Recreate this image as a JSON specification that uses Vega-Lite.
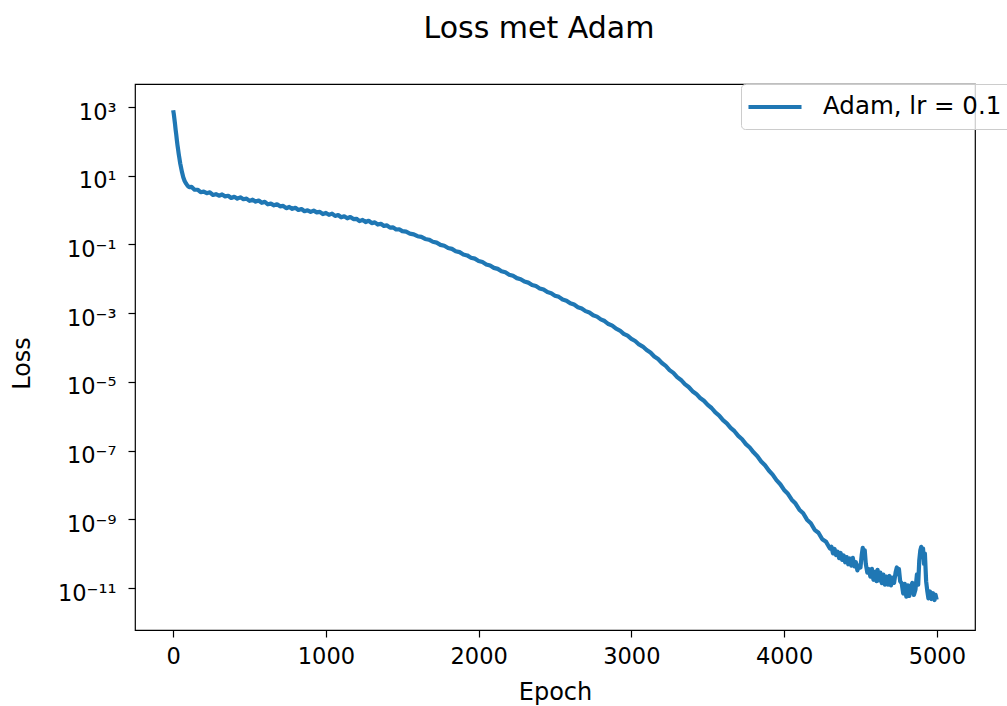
{
  "$schema": "https://vega.github.io/schema/vega-lite/v6.json",
  "width": 840,
  "height": 546,
  "autosize": {"type": "none"},
  "padding": {"left": 135, "top": 84, "right": 32, "bottom": 76},
  "background": "white",
  "title": {"text": "Loss met Adam", "fontSize": 30, "font": "DejaVu Sans", "fontWeight": "normal", "color": "#000", "anchor": "middle", "frame": "group", "dx": -16, "offset": 16, "baseline": "alphabetic"},
  "config": {
    "view": {"stroke": "#000", "strokeWidth": 1.2},
    "axis": {"labelFont": "DejaVu Sans", "titleFont": "DejaVu Sans", "labelColor": "#000", "titleColor": "#000", "titleFontWeight": "normal", "grid": false, "domain": false, "tickColor": "#000", "tickWidth": 1.2, "tickSize": 7}
  },
  "data": {"values": [
    {"epoch":0,"loss":810},{"epoch":4,"loss":630},{"epoch":8,"loss":450},{"epoch":12,"loss":320},{"epoch":16,"loss":220},{"epoch":20,"loss":160},{"epoch":24,"loss":110},{"epoch":28,"loss":79},{"epoch":32,"loss":59},{"epoch":36,"loss":44},{"epoch":40,"loss":34},{"epoch":46,"loss":23},{"epoch":52,"loss":17},{"epoch":58,"loss":12.6},{"epoch":66,"loss":9.1},{"epoch":75,"loss":7.1},{"epoch":85,"loss":5.9},{"epoch":95,"loss":5.1},{"epoch":105,"loss":4.7},
    {"epoch":120,"loss":4.76},{"epoch":140,"loss":3.94},{"epoch":160,"loss":3.93},{"epoch":180,"loss":3.33},{"epoch":200,"loss":3.47},{"epoch":220,"loss":3.12},{"epoch":240,"loss":3.30},{"epoch":260,"loss":2.77},{"epoch":280,"loss":2.92},{"epoch":300,"loss":2.63},
    {"epoch":320,"loss":2.86},{"epoch":340,"loss":2.52},{"epoch":360,"loss":2.62},{"epoch":380,"loss":2.26},{"epoch":400,"loss":2.45},{"epoch":420,"loss":2.17},{"epoch":440,"loss":2.36},{"epoch":460,"loss":2.08},{"epoch":480,"loss":2.16},{"epoch":500,"loss":1.86},
    {"epoch":520,"loss":2.01},{"epoch":540,"loss":1.77},{"epoch":560,"loss":1.91},{"epoch":580,"loss":1.64},{"epoch":600,"loss":1.74},{"epoch":620,"loss":1.48},{"epoch":640,"loss":1.55},{"epoch":660,"loss":1.38},{"epoch":680,"loss":1.48},{"epoch":700,"loss":1.29},
    {"epoch":720,"loss":1.33},{"epoch":740,"loss":1.14},{"epoch":760,"loss":1.24},{"epoch":780,"loss":1.09},{"epoch":800,"loss":1.17},{"epoch":820,"loss":1.01},{"epoch":840,"loss":1.08},{"epoch":860,"loss":0.93},{"epoch":880,"loss":0.99},{"epoch":900,"loss":0.89},
    {"epoch":920,"loss":0.97},{"epoch":940,"loss":0.86},{"epoch":960,"loss":0.89},{"epoch":980,"loss":0.77},{"epoch":1000,"loss":0.83},{"epoch":1020,"loss":0.73},{"epoch":1040,"loss":0.79},{"epoch":1060,"loss":0.68},{"epoch":1080,"loss":0.72},{"epoch":1100,"loss":0.62},
    {"epoch":1120,"loss":0.66},{"epoch":1140,"loss":0.58},{"epoch":1160,"loss":0.63},{"epoch":1180,"loss":0.55},{"epoch":1200,"loss":0.56},{"epoch":1220,"loss":0.48},{"epoch":1240,"loss":0.52},{"epoch":1260,"loss":0.45},{"epoch":1280,"loss":0.49},{"epoch":1300,"loss":0.42},
    {"epoch":1320,"loss":0.44},{"epoch":1340,"loss":0.38},{"epoch":1360,"loss":0.40},{"epoch":1380,"loss":0.347},{"epoch":1400,"loss":0.359},{"epoch":1420,"loss":0.310},{"epoch":1440,"loss":0.316},{"epoch":1460,"loss":0.273},{"epoch":1480,"loss":0.277},{"epoch":1500,"loss":0.245},
    {"epoch":1525,"loss":0.236},{"epoch":1550,"loss":0.207},{"epoch":1575,"loss":0.198},{"epoch":1600,"loss":0.174},{"epoch":1625,"loss":0.166},{"epoch":1650,"loss":0.145},{"epoch":1675,"loss":0.138},{"epoch":1700,"loss":0.120},
    {"epoch":1725,"loss":0.1135},{"epoch":1750,"loss":0.0977},{"epoch":1775,"loss":0.0923},{"epoch":1800,"loss":0.0794},{"epoch":1825,"loss":0.0746},{"epoch":1850,"loss":0.0638},{"epoch":1875,"loss":0.0599},{"epoch":1900,"loss":0.0513},
    {"epoch":1925,"loss":0.0481},{"epoch":1950,"loss":0.0412},{"epoch":1975,"loss":0.0387},{"epoch":2000,"loss":0.0331},{"epoch":2025,"loss":0.0309},{"epoch":2050,"loss":0.0263},{"epoch":2075,"loss":0.0245},{"epoch":2100,"loss":0.0209},
    {"epoch":2125,"loss":0.0195},{"epoch":2150,"loss":0.0166},{"epoch":2175,"loss":0.0155},{"epoch":2200,"loss":0.0132},{"epoch":2225,"loss":0.0123},{"epoch":2250,"loss":0.0105},{"epoch":2275,"loss":0.00977},{"epoch":2300,"loss":0.00832},
    {"epoch":2325,"loss":0.00776},{"epoch":2350,"loss":0.00661},{"epoch":2375,"loss":0.00617},{"epoch":2400,"loss":0.00525},{"epoch":2425,"loss":0.00487},{"epoch":2450,"loss":0.00412},{"epoch":2475,"loss":0.00382},{"epoch":2500,"loss":0.00324},
    {"epoch":2525,"loss":0.00299},{"epoch":2550,"loss":0.00251},{"epoch":2575,"loss":0.00232},{"epoch":2600,"loss":0.00195},{"epoch":2625,"loss":0.00179},{"epoch":2650,"loss":0.00150},{"epoch":2675,"loss":0.00137},{"epoch":2700,"loss":0.00115},
    {"epoch":2725,"loss":0.00105},{"epoch":2750,"loss":8.71e-4},{"epoch":2775,"loss":7.94e-4},{"epoch":2800,"loss":6.61e-4},{"epoch":2825,"loss":5.92e-4},{"epoch":2850,"loss":4.84e-4},{"epoch":2875,"loss":4.34e-4},{"epoch":2900,"loss":3.55e-4},
    {"epoch":2925,"loss":3.13e-4},{"epoch":2950,"loss":2.51e-4},{"epoch":2975,"loss":2.21e-4},{"epoch":3000,"loss":1.78e-4},{"epoch":3025,"loss":1.55e-4},{"epoch":3050,"loss":1.23e-4},{"epoch":3075,"loss":1.07e-4},{"epoch":3100,"loss":8.51e-5},
    {"epoch":3125,"loss":7.16e-5},{"epoch":3150,"loss":5.50e-5},{"epoch":3175,"loss":4.62e-5},{"epoch":3200,"loss":3.55e-5},{"epoch":3225,"loss":2.93e-5},{"epoch":3250,"loss":2.21e-5},{"epoch":3275,"loss":1.83e-5},{"epoch":3300,"loss":1.38e-5},
    {"epoch":3325,"loss":1.14e-5},{"epoch":3350,"loss":8.61e-6},{"epoch":3375,"loss":7.12e-6},{"epoch":3400,"loss":5.37e-6},{"epoch":3425,"loss":4.47e-6},{"epoch":3450,"loss":3.39e-6},{"epoch":3475,"loss":2.82e-6},{"epoch":3500,"loss":2.14e-6},
    {"epoch":3525,"loss":1.74e-6},{"epoch":3550,"loss":1.29e-6},{"epoch":3575,"loss":1.05e-6},{"epoch":3600,"loss":7.76e-7},{"epoch":3625,"loss":6.24e-7},{"epoch":3650,"loss":4.57e-7},{"epoch":3675,"loss":3.67e-7},{"epoch":3700,"loss":2.69e-7},
    {"epoch":3725,"loss":2.14e-7},{"epoch":3750,"loss":1.55e-7},{"epoch":3775,"loss":1.23e-7},{"epoch":3800,"loss":8.91e-8},{"epoch":3825,"loss":6.88e-8},{"epoch":3850,"loss":4.84e-8},{"epoch":3875,"loss":3.74e-8},{"epoch":3900,"loss":2.63e-8},
    {"epoch":3925,"loss":2.0e-8},{"epoch":3950,"loss":1.38e-8},{"epoch":3975,"loss":1.05e-8},{"epoch":4000,"loss":7.16e-9},{"epoch":4025,"loss":5.53e-9},{"epoch":4050,"loss":3.72e-9},{"epoch":4075,"loss":2.87e-9},{"epoch":4100,"loss":1.91e-9},
    {"epoch":4125,"loss":1.50e-9},{"epoch":4150,"loss":9.77e-10},{"epoch":4175,"loss":7.67e-10},{"epoch":4200,"loss":4.95e-10},{"epoch":4225,"loss":4.07e-10},{"epoch":4250,"loss":2.63e-10},{"epoch":4275,"loss":2.21e-10},{"epoch":4300,"loss":1.41e-10},
    {"epoch":4310,"loss":1.58e-10},{"epoch":4320,"loss":1.02e-10},{"epoch":4330,"loss":1.38e-10},{"epoch":4340,"loss":9.12e-11},{"epoch":4350,"loss":1.15e-10},{"epoch":4360,"loss":7.41e-11},{"epoch":4370,"loss":1.05e-10},{"epoch":4380,"loss":6.61e-11},{"epoch":4390,"loss":8.91e-11},{"epoch":4400,"loss":5.62e-11},
    {"epoch":4410,"loss":7.94e-11},{"epoch":4420,"loss":4.90e-11},{"epoch":4430,"loss":7.24e-11},{"epoch":4440,"loss":4.47e-11},{"epoch":4450,"loss":7.59e-11},{"epoch":4460,"loss":4.27e-11},{"epoch":4470,"loss":5.62e-11},{"epoch":4480,"loss":3.24e-11},{"epoch":4490,"loss":4.47e-11},{"epoch":4500,"loss":3.98e-11},
    {"epoch":4508,"loss":8.91e-11},{"epoch":4515,"loss":1.48e-10},{"epoch":4522,"loss":7.94e-11},{"epoch":4528,"loss":1.26e-10},{"epoch":4535,"loss":5.01e-11},{"epoch":4545,"loss":2.82e-11},{"epoch":4555,"loss":3.55e-11},{"epoch":4565,"loss":2.14e-11},{"epoch":4575,"loss":3.63e-11},{"epoch":4585,"loss":1.74e-11},{"epoch":4595,"loss":2.95e-11},{"epoch":4605,"loss":1.58e-11},
    {"epoch":4612,"loss":3.39e-11},{"epoch":4620,"loss":1.66e-11},{"epoch":4630,"loss":2.82e-11},{"epoch":4640,"loss":1.38e-11},{"epoch":4650,"loss":2.45e-11},{"epoch":4660,"loss":1.26e-11},{"epoch":4670,"loss":2.14e-11},{"epoch":4680,"loss":1.26e-11},{"epoch":4690,"loss":2.24e-11},{"epoch":4700,"loss":1.20e-11},
    {"epoch":4710,"loss":2.00e-11},{"epoch":4720,"loss":1.41e-11},{"epoch":4730,"loss":2.82e-11},{"epoch":4738,"loss":3.98e-11},{"epoch":4745,"loss":2.51e-11},{"epoch":4752,"loss":3.55e-11},{"epoch":4760,"loss":1.58e-11},{"epoch":4770,"loss":1.38e-11},{"epoch":4780,"loss":6.92e-12},{"epoch":4790,"loss":1.32e-11},{"epoch":4800,"loss":5.62e-12},
    {"epoch":4810,"loss":1.20e-11},{"epoch":4820,"loss":5.89e-12},{"epoch":4830,"loss":1.12e-11},{"epoch":4840,"loss":1.41e-11},{"epoch":4850,"loss":6.31e-12},{"epoch":4860,"loss":8.91e-12},{"epoch":4870,"loss":2.51e-11},{"epoch":4878,"loss":1.26e-11},{"epoch":4885,"loss":6.31e-11},{"epoch":4892,"loss":1.26e-10},{"epoch":4898,"loss":1.58e-10},
    {"epoch":4904,"loss":8.91e-11},{"epoch":4910,"loss":1.41e-10},{"epoch":4916,"loss":5.01e-11},{"epoch":4922,"loss":1.0e-10},{"epoch":4930,"loss":1.58e-11},{"epoch":4938,"loss":7.94e-12},{"epoch":4945,"loss":5.01e-12},{"epoch":4955,"loss":7.94e-12},{"epoch":4965,"loss":4.79e-12},{"epoch":4975,"loss":7.08e-12},{"epoch":4985,"loss":4.47e-12},{"epoch":4992,"loss":6.31e-12},{"epoch":4999,"loss":4.6e-12}
  ]},
  "mark": {"type": "line", "strokeWidth": 4.2, "strokeJoin": "round", "strokeCap": "butt"},
  "encoding": {
    "x": {"field": "epoch", "type": "quantitative", "scale": {"domain": [-250, 5250], "nice": false, "zero": false},
      "axis": {"title": "Epoch", "values": [0, 1000, 2000, 3000, 4000, 5000], "format": "d", "labelFontSize": 22.5, "titleFontSize": 24, "labelPadding": 8, "labelFlush": false, "titleBaseline": "alphabetic", "titleY": 69}},
    "y": {"field": "loss", "type": "quantitative", "scale": {"type": "log", "domain": [6e-13, 4700], "nice": false},
      "axis": {"title": "Loss", "values": [1e3, 1e1, 1e-1, 1e-3, 1e-5, 1e-7, 1e-9, 1e-11], "labelFontSize": 22.5, "titleFontSize": 24, "labelPadding": 12, "labelOffset": 5, "titleBaseline": "alphabetic", "titleX": -106, "titleY": 279, "titleAlign": "center",
        "labelExpr": "round(log(datum.value)/LN10)==3?'10³':round(log(datum.value)/LN10)==1?'10¹':round(log(datum.value)/LN10)==-1?'10⁻¹':round(log(datum.value)/LN10)==-3?'10⁻³':round(log(datum.value)/LN10)==-5?'10⁻⁵':round(log(datum.value)/LN10)==-7?'10⁻⁷':round(log(datum.value)/LN10)==-9?'10⁻⁹':'10⁻¹¹'"}},
    "color": {"datum": "Adam, lr = 0.1", "type": "nominal", "scale": {"range": ["#1f77b4"]},
      "legend": {"title": null, "orient": "none", "legendX": 606, "legendY": 0, "padding": 10, "strokeColor": "#cccccc", "fillColor": "rgba(255,255,255,0.8)", "cornerRadius": 4, "symbolType": "M-2.5,0H2.5", "symbolSize": 450, "symbolOffset": 11, "symbolStrokeWidth": 4, "symbolStrokeColor": "#1f77b4", "symbolFillColor": "transparent", "labelFontSize": 24.5, "labelFont": "DejaVu Sans", "labelColor": "#000", "labelOffset": 35, "labelLimit": 0}}
  }
}
